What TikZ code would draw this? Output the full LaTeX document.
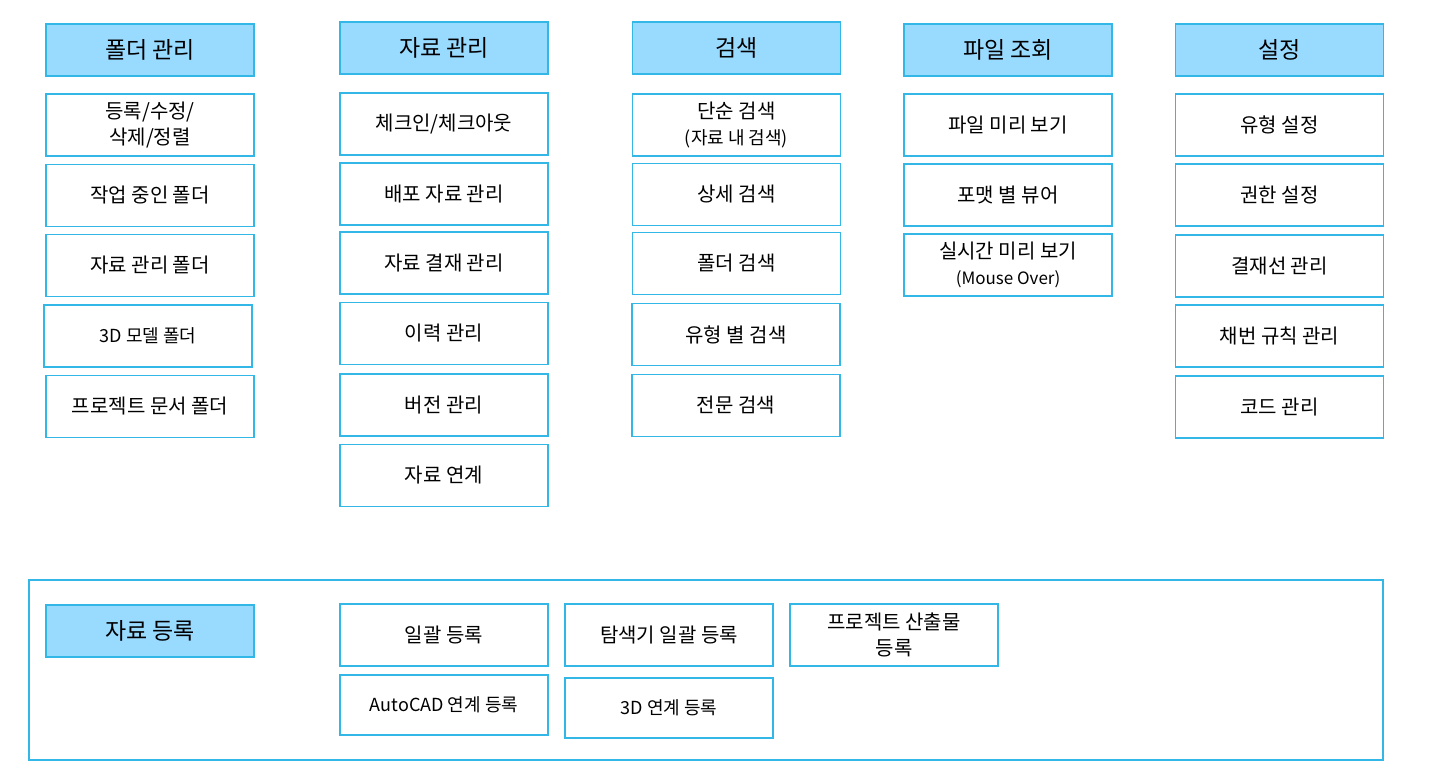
\documentclass[tikz,border=0pt]{standalone}
\usepackage{fontspec}
\setmainfont{Noto Sans CJK KR}
\usetikzlibrary{positioning}
\definecolor{menuline}{RGB}{51, 183, 230}
\definecolor{menufill}{RGB}{153, 218, 255}

\begin{document}
\begin{tikzpicture}[x=1pt, y=-1pt,
    head/.style={rectangle, draw=menuline, fill=menufill, minimum width=208pt, minimum height=52pt, line width=1.6pt, align=center, inner sep=2pt, font=\fontsize{23}{26}\selectfont},
    item/.style={rectangle, draw=menuline, fill=white, minimum width=208pt, minimum height=62pt, line width=1.6pt, align=center, inner sep=2pt, font=\fontsize{20}{26}\selectfont},
    small/.style={font=\fontsize{18}{26}\selectfont}]

\useasboundingbox (0, 0) rectangle (1429, 782);

% column headers
\node[head] (folder) at (150, 50) {폴더 관리};
\node[head] (data) at (444, 48) {자료 관리};
\node[head] (search) at (736.5, 48) {검색};
\node[head] (view) at (1008, 50) {파일 조회};
\node[head] (setup) at (1279.5, 50) {설정};

% folder management
\node[item] (f1) at (150, 125) {등록/수정/\\삭제/정렬};
\node[item] (f2) at (150, 195.5) {작업 중인 폴더};
\node[item] (f3) at (150, 265.5) {자료 관리 폴더};
\node[item, small] (f4) at (148, 336) {3D 모델 폴더};
\node[item] (f5) at (150, 406.5) {프로젝트 문서 폴더};

% data management
\node[item] (d1) at (444, 124) {체크인/체크아웃};
\node[item] (d2) at (444, 194) {배포 자료 관리};
\node[item] (d3) at (444, 263) {자료 결재 관리};
\node[item] (d4) at (444, 333.5) {이력 관리};
\node[item] (d5) at (444, 405) {버전 관리};
\node[item] (d6) at (444, 475.5) {자료 연계};

% search
\node[item] (s1) at (736.5, 125) {단순 검색\\{\fontsize{18}{20}\selectfont (자료 내 검색)}};
\node[item] (s2) at (736.5, 194.5) {상세 검색};
\node[item] (s3) at (736.5, 263.5) {폴더 검색};
\node[item] (s4) at (736, 334.5) {유형 별 검색};
\node[item] (s5) at (736, 405.5) {전문 검색};

% file view
\node[item] (v1) at (1008, 125) {파일 미리 보기};
\node[item] (v2) at (1008, 195) {포맷 별 뷰어};
\node[item] (v3) at (1008, 265) {실시간 미리 보기\\{\fontsize{17}{20}\selectfont (Mouse Over)}};

% settings
\node[item] (c1) at (1279.5, 125) {유형 설정};
\node[item] (c2) at (1279.5, 195) {권한 설정};
\node[item] (c3) at (1279.5, 266) {결재선 관리};
\node[item] (c4) at (1279.5, 336) {채번 규칙 관리};
\node[item] (c5) at (1279.5, 407) {코드 관리};

% data registration
\node[rectangle, draw=menuline, line width=1.6pt, minimum width=1354pt, minimum height=180pt, inner sep=0pt] (regframe) at (706, 670) {};
\node[head] (reg) at (150, 631) {자료 등록};
\node[item] (r1) at (444, 635) {일괄 등록};
\node[item, small, minimum height=60pt] (r2) at (444, 705) {AutoCAD 연계 등록};
\node[item] (r3) at (669, 635) {탐색기 일괄 등록};
\node[item, small, minimum height=60pt] (r4) at (669, 708) {3D 연계 등록};
\node[item] (r5) at (894, 635) {프로젝트 산출물\\등록};

\end{tikzpicture}
\end{document}
